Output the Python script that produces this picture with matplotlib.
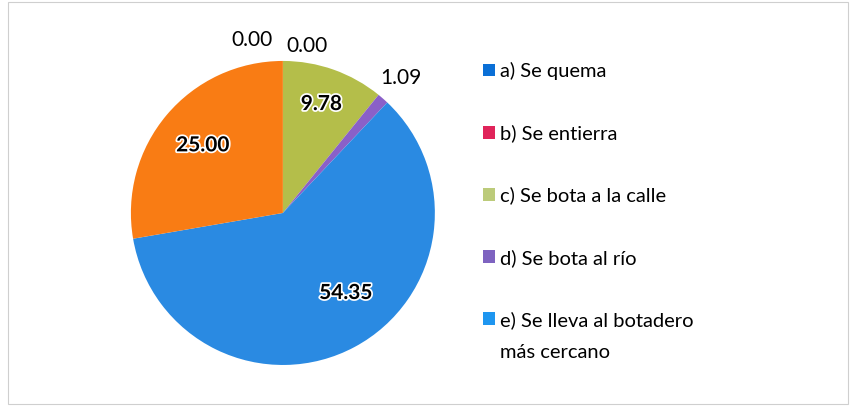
import numpy as np
import matplotlib
matplotlib.use("Agg")
import matplotlib.pyplot as plt
import matplotlib.patheffects as pe
from matplotlib.patches import Patch, Rectangle

# data (the orange slice has no legend entry)
categories = ["a) Se quema", "b) Se entierra", "c) Se bota a la calle",
              "d) Se bota al río", "e) Se lleva al botadero\nmás cercano", ""]
values = [0.00, 0.00, 9.78, 1.09, 54.35, 25.00]
labels = ["0.00", "0.00", "9.78", "1.09", "54.35", "25.00"]
colors = ["#0a6fd6", "#e0245a", "#b4be4a", "#8a60c8", "#2a8ae2", "#f97c14"]
legend_colors = ["#0a6fd6", "#e0245a", "#bccb7a", "#7e63c0", "#1e96f0"]

plt.rcParams["font.family"] = ["Lato", "DejaVu Sans"]

fig = plt.figure(figsize=(8.5, 4.11), dpi=100)
fig.patch.set_facecolor("white")
fig.patches.append(Rectangle((8 / 850, 7 / 411), 840 / 850, 402 / 411,
                             transform=fig.transFigure, fill=False,
                             edgecolor="#cfcfcf", linewidth=0.8))

ax = fig.add_axes([0.154, 0.112, 0.3576, 0.7397])
wedges, _ = ax.pie(values, colors=colors, startangle=90, counterclock=False,
                   wedgeprops=dict(linewidth=0))
ax.set_aspect("auto")
ax.set_xlim(-1, 1)
ax.set_ylim(-1, 1)
ax.axis("off")

# label placement: (radius, angle shift, x nudge, bold)
place = [(1.14, 0, -0.20, False), (1.10, 0, 0.16, False), (0.76, 0, 0, True),
         (1.18, 0, 0, False), (0.67, 10, 0, True), (0.69, 0, 0, True)]
for w, lab, (r, shift, nx, bold) in zip(wedges, labels, place):
    ang = np.deg2rad((w.theta1 + w.theta2) / 2 + shift)
    if w.theta2 - w.theta1 < 0.01:
        x, y = nx, r
    else:
        x, y = r * np.cos(ang), r * np.sin(ang)
    t = ax.text(x, y, lab, ha="center", va="center", fontsize=15,
                fontweight="bold" if bold else "normal", color="black",
                clip_on=False)
    if bold:
        t.set_path_effects([pe.withStroke(linewidth=2.5, foreground="white")])

# legend: first line of each label next to the marker, extra lines below
first_lines = [c.split("\n")[0] for c in categories[:5]]
handles = [Patch(facecolor=c, edgecolor="none") for c in legend_colors]
leg = fig.legend(handles, first_lines, loc="upper left",
                 bbox_to_anchor=(473 / 850, 1 - 52 / 411), frameon=False,
                 fontsize=14.5, handlelength=0.6, handleheight=0.6,
                 handletextpad=0.25, labelspacing=2.2, borderpad=0)

fig.canvas.draw()
last = leg.get_texts()[-1].get_window_extent()
extra = categories[4].split("\n")[1]
fig.text(last.x0 / 850, (last.y0 - 32) / 411, extra, fontsize=14.5,
         ha="left", va="bottom")

fig.savefig("out.png", dpi=100)
